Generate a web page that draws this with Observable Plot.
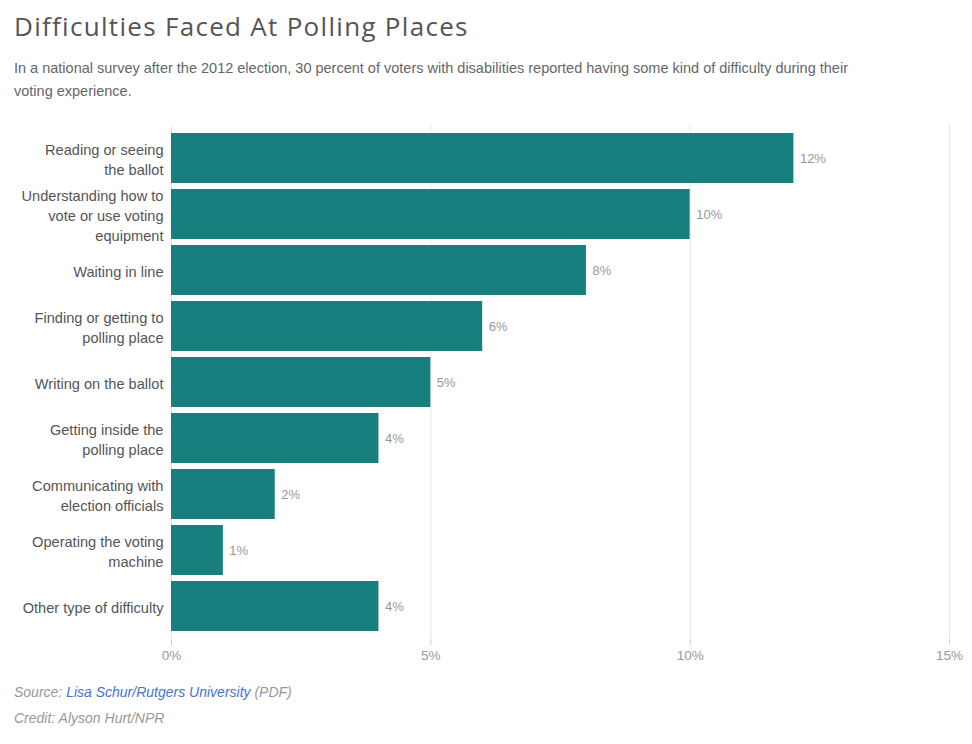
<!DOCTYPE html>
<html>
<head>
<meta charset="utf-8">
<script src="https://cdn.jsdelivr.net/npm/d3@7"></script>
<script src="https://cdn.jsdelivr.net/npm/@observablehq/plot@0.6"></script>
<style>
  html, body { margin: 0; padding: 0; background: #fff; }
  body { width: 972px; font-family: "Liberation Sans", Arial, sans-serif; }
  h1 { margin: 0; padding: 10px 0 0 14px; font-family: "Open Sans", sans-serif; font-weight: 400;
       font-size: 26px; line-height: 32px; color: #555; letter-spacing: 1.3px; }
  .sub { margin: 15px 0 0 14px; width: 860px; font-size: 14.5px; line-height: 23px; color: #666; }
  #chart { margin-top: 15px; }
  .foot { margin-left: 14px; font-size: 14px; line-height: 26px; font-style: italic; color: #999; }
  .foot.first { margin-top: 1px; }
  .foot a { color: #4774cc; text-decoration: none; }
</style>
</head>
<body>
<h1>Difficulties Faced At Polling Places</h1>
<div class="sub">In a national survey after the 2012 election, 30 percent of voters with disabilities reported having some kind of difficulty during their voting experience.</div>
<div id="chart"></div>
<div class="foot first">Source: <a>Lisa Schur/Rutgers University</a> (PDF)</div>
<div class="foot">Credit: Alyson Hurt/NPR</div>
<script>
const categories = [
  "Reading or seeing the ballot",
  "Understanding how to vote or use voting equipment",
  "Waiting in line",
  "Finding or getting to polling place",
  "Writing on the ballot",
  "Getting inside the polling place",
  "Communicating with election officials",
  "Operating the voting machine",
  "Other type of difficulty"
];
const tickLabels = [
  "Reading or seeing\nthe ballot",
  "Understanding how to\nvote or use voting\nequipment",
  "Waiting in line",
  "Finding or getting to\npolling place",
  "Writing on the ballot",
  "Getting inside the\npolling place",
  "Communicating with\nelection officials",
  "Operating the voting\nmachine",
  "Other type of difficulty"
];
const values = [12, 10, 8, 6, 5, 4, 2, 1, 4];
const xTicks = [0, 5, 10, 15];

const data = categories.map((c, i) => ({category: c, value: values[i]}));

const chart = Plot.plot({
  width: 972,
  height: 560,
  marginLeft: 171,
  marginRight: 23,
  marginTop: 7,
  marginBottom: 39,
  style: {fontFamily: '"Liberation Sans", Arial, sans-serif', fontSize: "14px", color: "#555", background: "#fff"},
  x: {domain: [0, 15], label: null},
  y: {domain: categories, label: null, padding: 0.111},
  marks: [
    Plot.gridX(xTicks, {stroke: "#e6e6e6", strokeOpacity: 1}),
    Plot.barX(data, {x: "value", y: "category", fill: "#17807e"}),
    Plot.text(data, {x: "value", y: "category", text: d => d.value + "%", dx: 6, textAnchor: "start", fill: "#999", fontSize: 13}),
    Plot.axisY({tickSize: 0, tickPadding: 8, lineHeight: 1.36, fontSize: 14.6, fill: "#555",
      tickFormat: d => tickLabels[categories.indexOf(d)]}),
    Plot.ruleY([0], {frameAnchor: "bottom", stroke: "#ccc"}),
    Plot.axisX(xTicks, {tickSize: 6, tickPadding: 5, stroke: "#ccc", fill: "#999", fontSize: 13.5, tickFormat: d => d + "%"})
  ]
});
document.getElementById("chart").appendChild(chart);
</script>
</body>
</html>
